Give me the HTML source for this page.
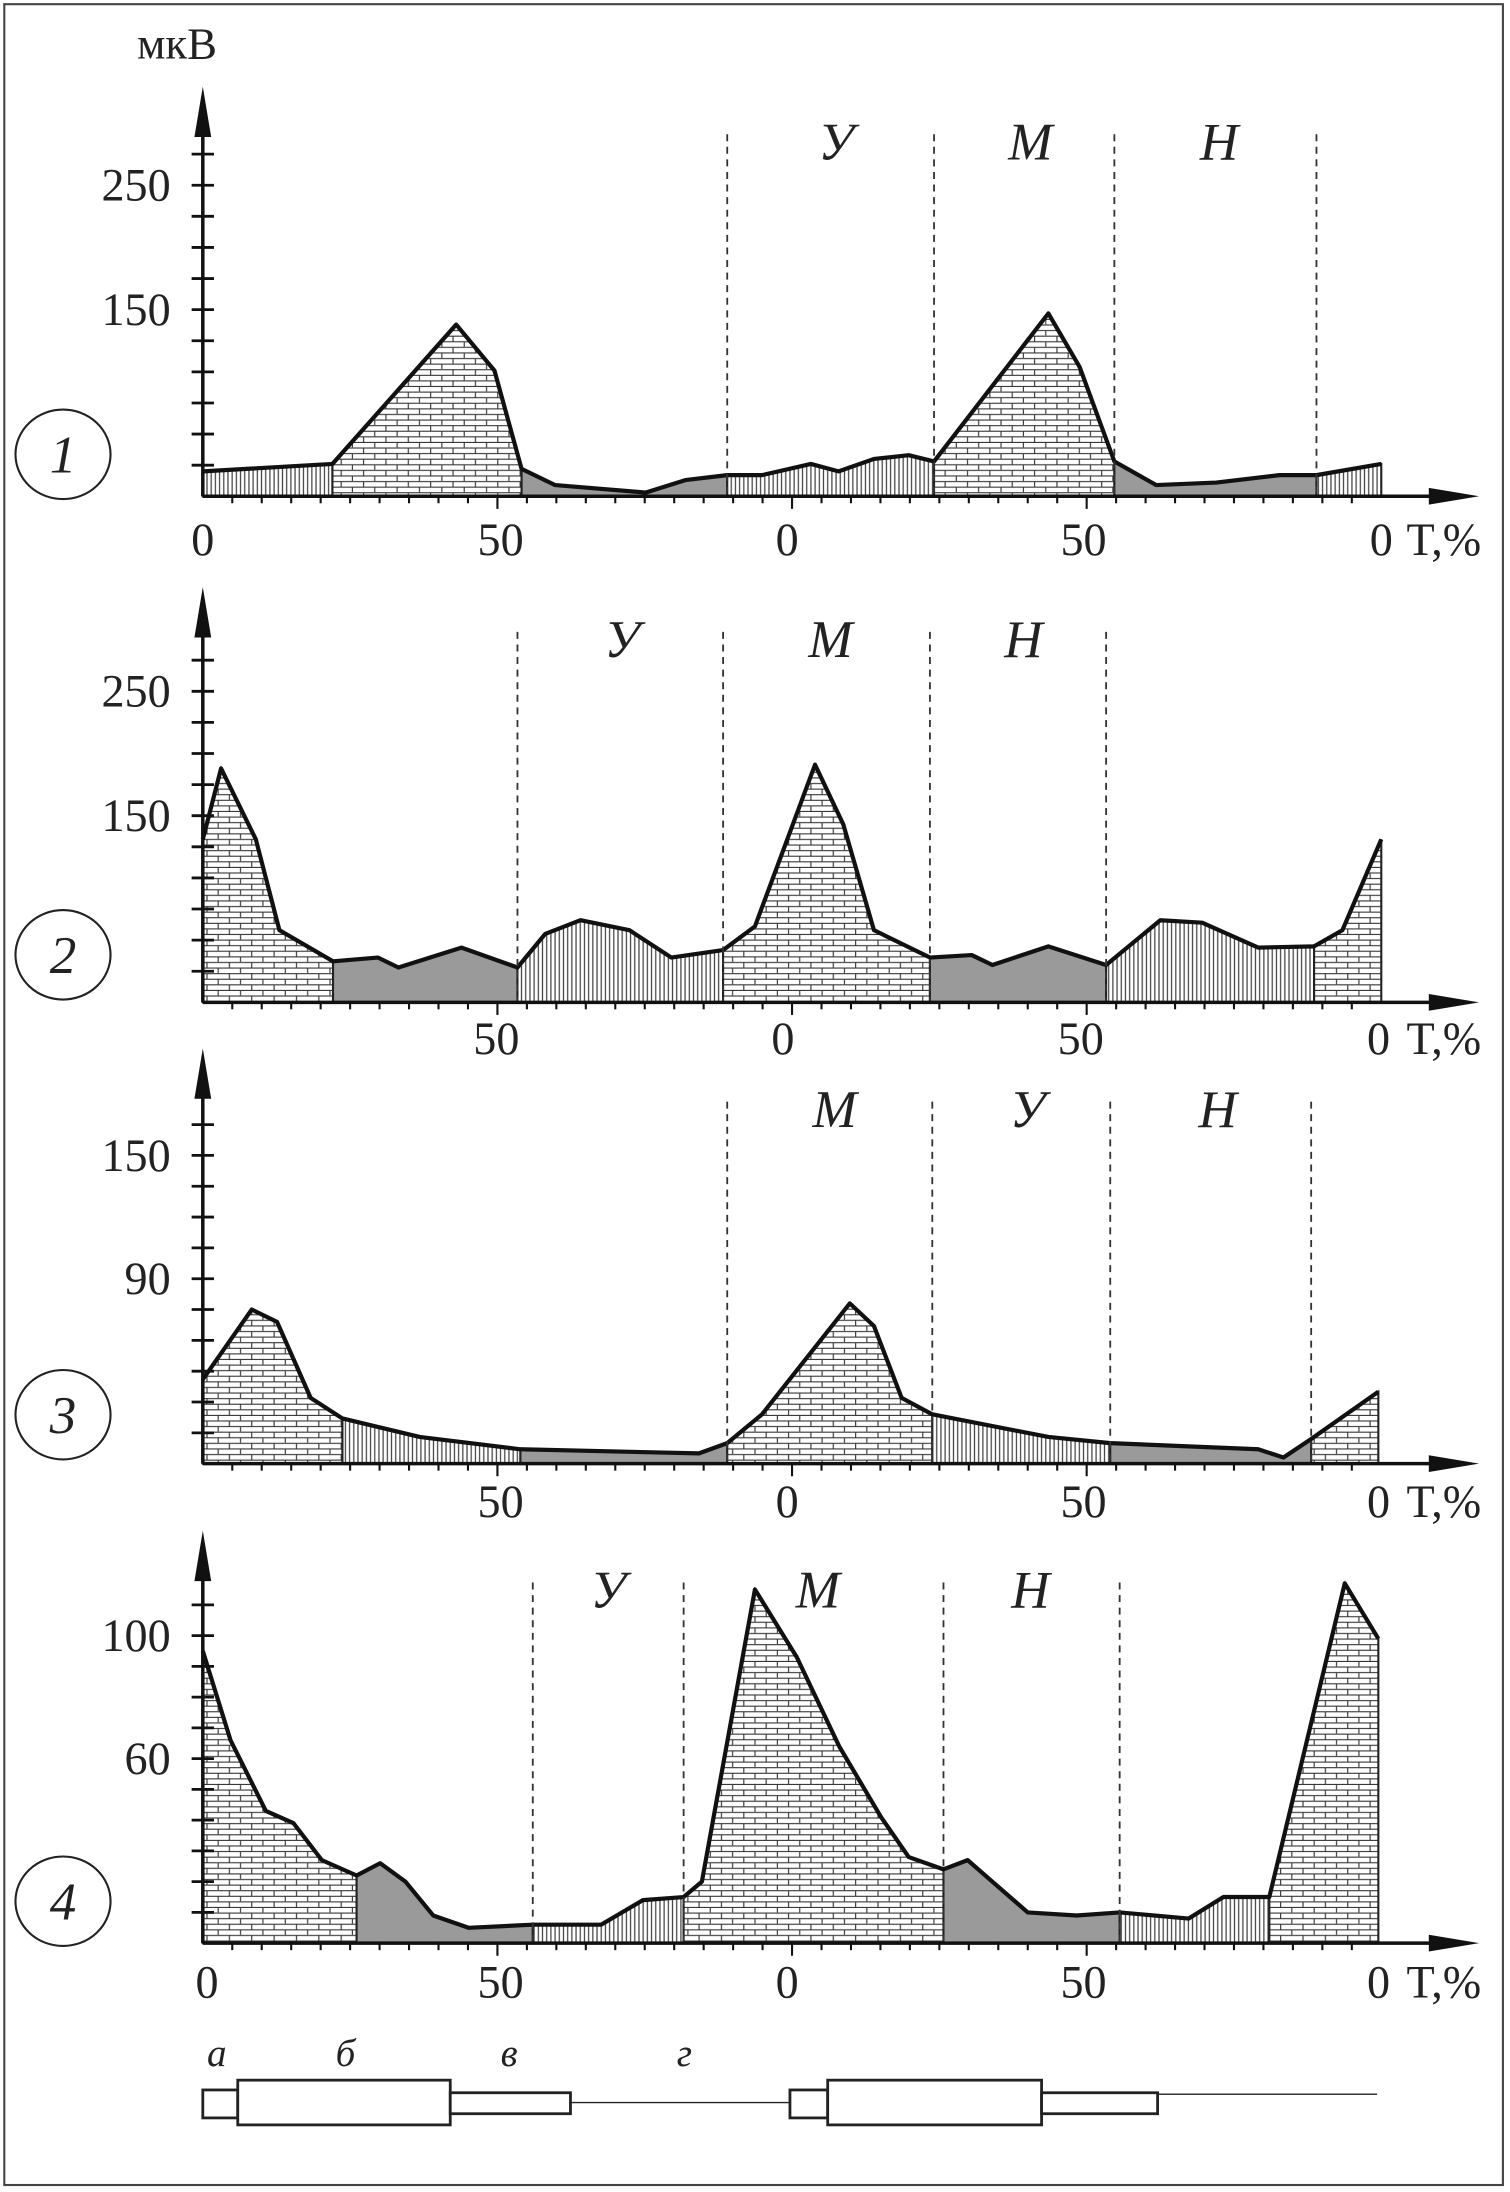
<!DOCTYPE html>
<html><head><meta charset="utf-8"><style>
html,body{margin:0;padding:0;background:#fff;}
svg{display:block;}
text{font-family:"Liberation Serif",serif;fill:#222;}
</style></head>
<body>
<svg id="chart" width="1510" height="2192" viewBox="0 0 1080 1568" xmlns="http://www.w3.org/2000/svg">
<defs>
<pattern id="brick" width="16" height="8" patternUnits="userSpaceOnUse">
<rect width="16" height="8" fill="#fff"/>
<path d="M0 0.5H16M0 4.5H16M4 0.5V4.5M12 4.5V8.5" stroke="#333" stroke-width="0.8" fill="none"/>
</pattern>
<pattern id="vhatch" width="3" height="10" patternUnits="userSpaceOnUse">
<rect width="3" height="10" fill="#fff"/>
<path d="M1 0V10" stroke="#444" stroke-width="0.9"/>
</pattern>
</defs>
<rect x="3" y="3" width="1072" height="1560" fill="none" stroke="#444" stroke-width="1.5"/>
<g id="plots"></g>
<g stroke="#222" stroke-width="2" fill="#fff">
<rect x="145" y="1495" width="25" height="20"/><rect x="170" y="1488" width="152" height="32"/><rect x="322" y="1497" width="86" height="15"/><line x1="408" y1="1504" x2="565" y2="1504" stroke-width="1"/>
<rect x="565" y="1495" width="27" height="20"/><rect x="592" y="1488" width="153" height="32"/><rect x="745" y="1497" width="83" height="15"/><line x1="828" y1="1498" x2="985" y2="1498" stroke-width="1"/>
</g>
<g font-style="italic" font-size="28">
<text x="148" y="1478">а</text><text x="240" y="1478">б</text><text x="358" y="1478">в</text><text x="484" y="1478">г</text>
</g>
<text x="98" y="42" font-size="32">мкВ</text>
</svg>
<script>
// Panel 1
const p1T=[0,22,43,49.5,54.1,59.8,75.2,81.9,89,94.9,103.2,107.9,113.9,119.8,124.1,143.5,148.8,154.7,161.8,172,182.7,189,200];
const p1V=[20,26,138,101,22,9,3,13,17,17,26,20,30,33,28,147,104,28,9,11,17,17,26];
const p1Seg=[0,22,54.1,89,124.1,154.7,189,200];
const p1Pat=["v","b","g","v","b","g","v"];
const p1Ticks=[250,150];
const p1Zones=["У","М","Н"];
// Panel 2
const p2T=[0,3.1,9,13,22.1,29.7,33.2,43.9,53.4,58.1,64.1,72.4,79.5,88.3,93.7,103.9,108.7,113.9,123.4,130.5,134,143.5,153.3,162.5,169.6,179.1,188.6,193.4,200];
const p2V=[131,188,131,58,33,36,28,44,28,55,66,58,36,42,61,191,143,58,36,38,30,45,30,66,64,44,45,58,131];
const p2Seg=[0,22.1,53.4,88.3,123.4,153.3,188.6,200];
const p2Pat=["b","g","v","b","g","v","b"];
const p2Ticks=[250,150];
const p2Zones=["У","М","Н"];
// Panel 3
const p3T=[0,8.3,12.6,18.3,23.7,36.8,53.9,84.2,89,94.9,109.8,113.9,118.6,123.8,143.5,154,179.1,183.4,188.1,199.5];
const p3V=[41,75,69,32,22,13,7,5,10,24,78,67,32,24,13,10,7,3,12,35];
const p3Seg=[0,23.7,53.9,89,123.8,154,188.1,199.5];
const p3Pat=["b","v","g","b","v","g","b"];
const p3Ticks=[150,90];
const p3Zones=["М","У","Н"];
// Panel 4
const p4T=[0,4.7,10.7,15.4,20.2,26.1,30.1,34.4,39.1,45.1,56,67.6,74.7,81.6,84.7,93.7,100.8,108,115.1,119.8,125.7,129.8,134,140,148.3,155.6,167.3,173.2,181,193.8,199.5];
const p4V=[95,66,43,39,27,22,26,20,9,5,6,6,14,15,20,115,93,64,41,28,24,27,20,10,9,10,8,15,15,117,99];
const p4Seg=[0,26.1,56,81.6,125.7,155.6,181,199.5];
const p4Pat=["b","g","v","b","g","v","b"];
const p4Ticks=[100,60];
const p4Zones=["У","М","Н"];

const NS="http://www.w3.org/2000/svg";
const root=document.getElementById('plots');
function el(tag,attrs,parent){const e=document.createElementNS(NS,tag);for(const k in attrs)e.setAttribute(k,attrs[k]);(parent||root).appendChild(e);return e;}
const X0=145,XS=4.215;
function xs(t){return X0+t*XS;}
function valAt(T,V,t){for(let i=0;i<T.length-1;i++){if(t>=T[i]&&t<=T[i+1]){const f=(t-T[i])/(T[i+1]-T[i]||1);return V[i]+f*(V[i+1]-V[i]);}}return V[V.length-1];}

const cfg=[
 {T:p1T,V:p1V,S:p1Seg,P:p1Pat,ticks:p1Ticks,zones:p1Zones,base:355,k:0.89,step:25,top:62,num:"1",cy:325,labY:100,xlab:[[145,"0"],[358,"50"],[563,"0"],[775,"50"],[988,"0"]],xlabY:397,zl:[598,737,872],dash:[89,124.1,154.7,189]},
 {T:p2T,V:p2V,S:p2Seg,P:p2Pat,ticks:p2Ticks,zones:p2Zones,base:717,k:0.89,step:25,top:420,num:"2",cy:683,labY:456,xlab:[[355,"50"],[560,"0"],[773,"50"],[986,"0"]],xlabY:754,zl:[445,594,732],dash:[53.4,88.3,123.4,153.3]},
 {T:p3T,V:p3V,S:p3Seg,P:p3Pat,ticks:p3Ticks,zones:p3Zones,base:1047,k:1.47,step:15,top:750,num:"3",cy:1012,labY:792,xlab:[[358,"50"],[563,"0"],[775,"50"],[986,"0"]],xlabY:1085,zl:[597,735,871],dash:[89,123.8,154,188.1]},
 {T:p4T,V:p4V,S:p4Seg,P:p4Pat,ticks:p4Ticks,zones:p4Zones,base:1390,k:2.2,step:10,top:1095,num:"4",cy:1360,labY:1136,xlab:[[148,"0"],[358,"50"],[563,"0"],[775,"50"],[986,"0"]],xlabY:1429,zl:[435,585,737],dash:[56,81.6,125.7,155.6]}
];
const fills={b:"url(#brick)",v:"url(#vhatch)",g:"#9a9a9a"};
cfg.forEach((c,pi)=>{
 const g=el('g',{});
 
 
 const ys=v=>c.base-v*c.k;
 for(let s=0;s<c.S.length-1;s++){
  const a=c.S[s],b=c.S[s+1];
  let pts=[[xs(a),c.base],[xs(a),ys(valAt(c.T,c.V,a))]];
  c.T.forEach((t,i)=>{if(t>a&&t<b)pts.push([xs(t),ys(c.V[i])]);});
  pts.push([xs(b),ys(valAt(c.T,c.V,b))],[xs(b),c.base]);
  const p=el('polygon',{points:pts.map(q=>q.join(',')).join(' '),fill:fills[c.P[s]],stroke:'#222','stroke-width':1.5},g);
  
  
 }
 const line=el('polyline',{points:c.T.map((t,i)=>xs(t)+','+ys(c.V[i])).join(' '),fill:'none',stroke:'#111','stroke-width':3,'stroke-linejoin':'round'},g);
 
 
 c.dash.forEach(t=>{
  const d=el('line',{x1:xs(t),x2:xs(t),y1:c.labY-4,y2:c.base,stroke:'#333','stroke-width':1.3,'stroke-dasharray':'5,4'},g);
  
  
 });
 c.zones.forEach((z,i)=>{
  const tx=el('text',{x:c.zl[i],y:c.labY+14,'font-size':38,'font-style':'italic','text-anchor':'middle'},g);
  tx.textContent=z;
  
  
 });
 const ya=el('line',{x1:145,x2:145,y1:c.top+20,y2:c.base,stroke:'#111','stroke-width':2.5},g);
 
 
 const yh=el('polygon',{points:`145,${c.top} 139,${c.top+36} 151,${c.top+36}`,fill:'#111'},g);
 
 
 for(let v=c.step;ys(v)>c.top+40;v+=c.step){
  const t=el('line',{x1:137,x2:153,y1:ys(v),y2:ys(v),stroke:'#111','stroke-width':2},g);
  
  
 }
 c.ticks.forEach(v=>{
  const tx=el('text',{x:122,y:ys(v)+11,'font-size':33,'text-anchor':'end'},g);
  tx.textContent=v;
  
  
 });
 const xa=el('line',{x1:145,x2:1030,y1:c.base,y2:c.base,stroke:'#111','stroke-width':2.5},g);
 
 
 const xh=el('polygon',{points:`1058,${c.base} 1022,${c.base-6} 1022,${c.base+6}`,fill:'#111'},g);
 
 
 for(let t=5;t<200;t+=5){
  const tk=el('line',{x1:xs(t),x2:xs(t),y1:c.base,y2:c.base+(t%50==0?9:5),stroke:'#111','stroke-width':1.5},g);
  
  
 }
 c.xlab.forEach(l=>{
  const tx=el('text',{x:l[0],y:c.xlabY,'font-size':33,'text-anchor':'middle'},g);
  tx.textContent=l[1];
  
  
 });
 const tu=el('text',{x:1006,y:c.xlabY,'font-size':33},g);
 tu.textContent='T,%';
 
 
 const cc=el('ellipse',{cx:45,cy:c.cy,rx:34,ry:32,fill:'#fff',stroke:'#222','stroke-width':1.5},g);
 
 
 const cn=el('text',{x:45,y:c.cy+13,'font-size':38,'font-style':'italic','text-anchor':'middle'},g);
 cn.textContent=c.num;
 
 
});
</script>
</body></html>
